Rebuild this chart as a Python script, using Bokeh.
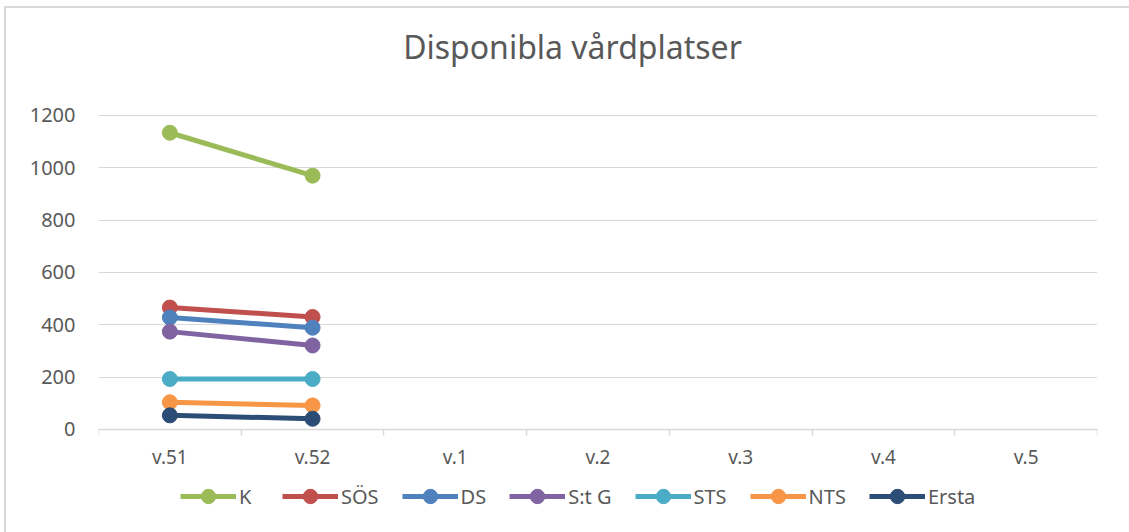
from bokeh.plotting import figure
from bokeh.models import (FixedTicker, Legend, LegendItem, Range1d, Label)
from bokeh.embed import file_html
from bokeh.resources import INLINE

title_text = "Disponibla vårdplatser"
categories = ["v.51", "v.52", "v.1", "v.2", "v.3", "v.4", "v.5"]
series_names = ["K", "SÖS", "DS", "S:t G", "STS", "NTS", "Ersta"]
K = [1134, 970]
SOS = [466, 430]
DS = [428, 389]
StG = [374, 321]
STS = [193, 193]
NTS = [104, 92]
Ersta = [54, 41]
values = [K, SOS, DS, StG, STS, NTS, Ersta]
colors = ["#9BBB59", "#C0504D", "#4F81BD", "#8064A2", "#4BACC6", "#F79646", "#2C4D75"]
y_ticks = [0, 200, 400, 600, 800, 1000, 1200]

FONT = "Noto Sans"
TXT = "#595959"

# the plot frame fills the whole height; the value axis covers 0..1200 within it
p = figure(width=1125, height=526, output_backend="svg", toolbar_location=None,
           x_range=Range1d(0, len(categories)), y_range=Range1d(-401.3, 1608.9),
           min_border_left=92, min_border_right=34, min_border_top=0, min_border_bottom=0)
p.styles = {"margin-left": "4px", "margin-top": "6px",
            "border-left": "2px solid #D9D9D9", "border-top": "2px solid #D9D9D9"}
p.outline_line_color = None
p.background_fill_color = "white"
p.border_fill_color = "white"

p.add_layout(Label(x=474, y=488, x_units="screen", y_units="screen", text=title_text,
                   text_align="center", text_baseline="alphabetic", text_font=FONT,
                   text_font_size="32px", text_color=TXT))

# y axis
p.yaxis.ticker = FixedTicker(ticks=y_ticks)
p.yaxis.axis_line_color = None
p.yaxis.major_tick_line_color = None
p.yaxis.minor_tick_line_color = None
p.yaxis.major_label_standoff = 17
p.yaxis.major_label_text_font = FONT
p.yaxis.major_label_text_font_size = "20px"
p.yaxis.major_label_text_color = TXT
p.ygrid.ticker = FixedTicker(ticks=y_ticks)
p.ygrid.grid_line_color = "#D9D9D9"
p.ygrid.grid_line_width = 1
p.xgrid.grid_line_color = None

# x axis, pinned at value 0
centers = [i + 0.5 for i in range(len(categories))]
bounds = list(range(len(categories) + 1))
p.xaxis.fixed_location = 0
p.xaxis.ticker = FixedTicker(ticks=centers, minor_ticks=bounds)
p.xaxis.major_label_overrides = {c: lab for c, lab in zip(centers, categories)}
p.xaxis.axis_line_color = "#D9D9D9"
p.xaxis.axis_line_width = 1.5
p.xaxis.major_tick_line_color = None
p.xaxis.minor_tick_line_color = "#D9D9D9"
p.xaxis.minor_tick_line_width = 1.5
p.xaxis.minor_tick_out = 6
p.xaxis.minor_tick_in = 0
p.xaxis.major_label_standoff = 9
p.xaxis.major_label_text_font = FONT
p.xaxis.major_label_text_font_size = "19px"
p.xaxis.major_label_text_color = TXT

items = []
for name, vals, col in zip(series_names, values, colors):
    xs = centers[:len(vals)]
    r1 = p.line(xs, vals, line_color=col, line_width=5)
    r2 = p.scatter(xs, vals, size=15, fill_color=col, line_color=col)
    items.append(LegendItem(label=name, renderers=[r1, r2]))

legend = Legend(items=items, orientation="horizontal", location=(82, 20),
                glyph_width=56, glyph_height=36, label_standoff=3, spacing=23,
                padding=0, margin=0, border_line_color=None, background_fill_alpha=0,
                label_text_font=FONT, label_text_font_size="20px", label_text_color=TXT)
p.add_layout(legend, "center")

open("out.html", "w").write(file_html(p, INLINE))
